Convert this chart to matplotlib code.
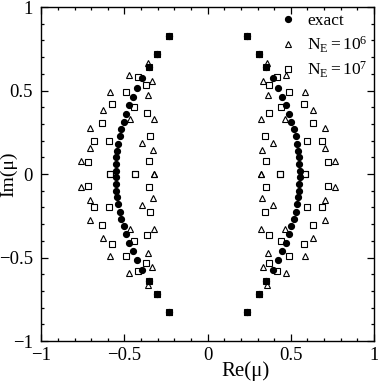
import numpy as np
import matplotlib
matplotlib.use("Agg")
import matplotlib.pyplot as plt
from matplotlib.ticker import MultipleLocator, FuncFormatter

plt.rcParams["font.family"] = ["Liberation Serif", "DejaVu Serif"]
plt.rcParams["mathtext.fontset"] = "stix"

# Values for the upper-left quadrant (Re < 0, Im >= 0).
# The spectrum is symmetric under mu -> -mu and mu -> conj(mu), so the other
# three quadrants are the mirror images of these points.
exact_re = [-0.234, -0.306, -0.352, -0.393, -0.423, -0.449, -0.471, -0.489,
            -0.504, -0.519, -0.529, -0.537, -0.543, -0.549, -0.551, -0.553]
exact_im = [0.828, 0.719, 0.643, 0.577, 0.515, 0.461, 0.411, 0.361,
            0.313, 0.269, 0.226, 0.181, 0.140, 0.100, 0.060, 0.020]

ne6_re = [-0.234, -0.306, -0.357, -0.473, -0.334, -0.587, -0.360, -0.631,
          -0.467, -0.320, -0.707, -0.393, -0.707, -0.327, -0.763, -0.320]
ne6_im = [0.828, 0.719, 0.666, 0.595, 0.557, 0.493, 0.473, 0.383,
          0.329, 0.328, 0.277, 0.184, 0.154, 0.142, 0.078, 0.0]

ne7_re = [-0.234, -0.306, -0.352, -0.420, -0.370, -0.491, -0.577, -0.444,
          -0.366, -0.635, -0.346, -0.685, -0.595, -0.351, -0.721, -0.587, -0.438]
ne7_im = [0.828, 0.719, 0.643, 0.583, 0.531, 0.489, 0.419, 0.403,
          0.365, 0.307, 0.228, 0.200, 0.200, 0.080, 0.070, 0.0, 0.0]


def mirror(re, im):
    re = np.asarray(re)
    im = np.asarray(im)
    return (np.concatenate([re, re, -re, -re]),
            np.concatenate([im, -im, im, -im]))


def tick_label(v, pos):
    s = "%g" % round(v, 3)
    if s == "-0":
        s = "0"
    return s.replace("-", "\u2212")


fig = plt.figure(figsize=(3.78, 3.82), dpi=100)
ax = fig.add_axes([0.1093, 0.1073, 0.880, 0.8743])

x, y = mirror(exact_re, exact_im)
ax.plot(x, y, "o", color="black", markersize=4.2, linestyle="none", label="exact")
x, y = mirror(ne6_re, ne6_im)
ax.plot(x, y, "^", mfc="none", mec="black", mew=0.8, markersize=4.5,
        linestyle="none", label=r"$\mathregular{N_E{=}10^6}$")
x, y = mirror(ne7_re, ne7_im)
ax.plot(x, y, "s", mfc="none", mec="black", mew=0.8, markersize=3.8,
        linestyle="none", label=r"$\mathregular{N_E{=}10^7}$")

ax.set_xlim(-1, 1)
ax.set_ylim(-1, 1)
ax.xaxis.set_major_locator(MultipleLocator(0.5))
ax.yaxis.set_major_locator(MultipleLocator(0.5))
ax.xaxis.set_minor_locator(MultipleLocator(0.1))
ax.yaxis.set_minor_locator(MultipleLocator(0.1))
ax.xaxis.set_major_formatter(FuncFormatter(tick_label))
ax.yaxis.set_major_formatter(FuncFormatter(tick_label))
ax.tick_params(which="both", direction="in", top=True, right=True, labelsize=13.5)
ax.tick_params(which="major", length=5, width=0.9)
ax.tick_params(which="minor", length=2.5, width=0.9)
ax.tick_params(axis="x", pad=4)
ax.tick_params(axis="y", pad=6)
for s in ax.spines.values():
    s.set_linewidth(1.0)

ax.set_xlabel("Re(μ)", fontsize=15)
ax.xaxis.set_label_coords(0.615, -0.06)
ax.set_ylabel("Im(μ)", fontsize=14)
ax.yaxis.set_label_coords(-0.072, 0.5)

ax.legend(loc="upper right", frameon=False, fontsize=12.5, handlelength=0.6,
          handletextpad=0.8, labelspacing=0.3, borderaxespad=0.1,
          borderpad=0.25)

fig.savefig("out.png", dpi=100)
